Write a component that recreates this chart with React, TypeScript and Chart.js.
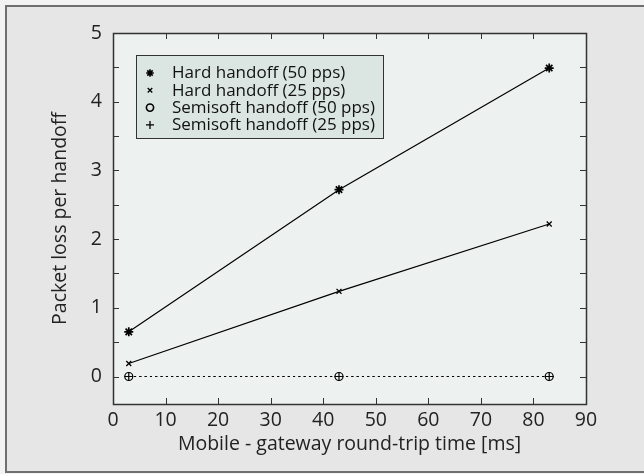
import React, { useEffect, useRef } from 'react';
import { Chart, registerables } from 'chart.js';
import { drawPoint } from 'chart.js/helpers';

Chart.register(...registerables);

const rtt = [3, 43, 83];
const hard50 = [0.65, 2.72, 4.49];
const hard25 = [0.19, 1.24, 2.22];
const semi50 = [0, 0, 0];
const semi25 = [0, 0, 0];
const seriesLabels = [
  'Hard handoff (50 pps)',
  'Hard handoff (25 pps)',
  'Semisoft handoff (50 pps)',
  'Semisoft handoff (25 pps)',
];
const xTickValues = [0, 10, 20, 30, 40, 50, 60, 70, 80, 90];
const yTickValues = [0, 1, 2, 3, 4, 5];
const yTickMarks = [0, 0.5, 1, 1.5, 2, 2.5, 3, 3.5, 4, 4.5, 5];
const xTitle = 'Mobile - gateway round-trip time [ms]';
const yTitle = 'Packet loss per handoff';

const FONT = "'Open Sans', sans-serif";
const LEGEND_BG = '#dbe5e1';

const framePlugin = {
  id: 'framePlugin',
  beforeDraw(chart: any) {
    const { ctx, width, height, chartArea: a } = chart;
    ctx.save();
    ctx.fillStyle = '#f3f3f3';
    ctx.fillRect(0, 0, width, height);
    ctx.fillStyle = '#e6e6e6';
    ctx.fillRect(5, 5, width, height - 7);
    ctx.strokeStyle = '#707070';
    ctx.lineWidth = 2;
    ctx.strokeRect(6, 6, width + 10, 466);
    ctx.fillStyle = '#edf1ef';
    ctx.fillRect(a.left, a.top, a.right - a.left, a.bottom - a.top);
    ctx.restore();
  },
  afterDraw(chart: any) {
    const { ctx, chartArea: a, scales } = chart;
    const xs = scales.x;
    const ys = scales.y;
    const L = 6;
    ctx.save();
    ctx.strokeStyle = '#333';
    ctx.lineWidth = 1;
    ctx.beginPath();
    xTickValues.forEach((v) => {
      const px = Math.round(xs.getPixelForValue(v)) + 0.5;
      ctx.moveTo(px, a.bottom);
      ctx.lineTo(px, a.bottom - L);
      ctx.moveTo(px, a.top);
      ctx.lineTo(px, a.top + L);
    });
    yTickMarks.forEach((v) => {
      const py = Math.round(ys.getPixelForValue(v)) + 0.5;
      ctx.moveTo(a.left, py);
      ctx.lineTo(a.left + L, py);
      ctx.moveTo(a.right, py);
      ctx.lineTo(a.right - L, py);
    });
    ctx.stroke();
    ctx.lineWidth = 1.5;
    ctx.strokeRect(Math.round(a.left) + 0.5, Math.round(a.top) + 0.5, Math.round(a.right - a.left), Math.round(a.bottom - a.top));

    // legend
    ctx.font = `17px ${FONT}`;
    let maxW = 0;
    chart.data.datasets.forEach((ds: any) => { maxW = Math.max(maxW, ctx.measureText(ds.label).width); });
    const lx = 136.5, ly = 55.5, lh = 83;
    const lw = Math.round(172 - lx + maxW + 9);
    ctx.fillStyle = LEGEND_BG;
    ctx.fillRect(lx, ly, lw, lh);
    ctx.lineWidth = 1;
    ctx.strokeStyle = '#333';
    ctx.strokeRect(lx, ly, lw, lh);
    ctx.textBaseline = 'middle';
    ctx.textAlign = 'left';
    chart.data.datasets.forEach((ds: any, i: number) => {
      const yy = 73 + i * 17.3;
      ctx.fillStyle = ds.pointStyle === 'circle' ? LEGEND_BG : '#000';
      ctx.strokeStyle = '#000';
      ctx.lineWidth = ds.legendBorder;
      drawPoint(ctx, { pointStyle: ds.pointStyle, radius: ds.legendRadius, rotation: 0, borderWidth: ds.legendBorder }, 150, yy);
      ctx.fillStyle = '#111';
      ctx.fillText(ds.label, 172, yy + 0.5);
    });
    ctx.restore();
  },
};

export default function App() {
  const ref = useRef<HTMLCanvasElement | null>(null);
  useEffect(() => {
    if (!ref.current) return;
    const mk = (ys: number[]) => rtt.map((x, i) => ({ x, y: ys[i] }));
    const chart = new Chart(ref.current, {
      type: 'scatter',
      data: {
        datasets: [
          {
            label: seriesLabels[0], data: mk(hard50), showLine: true,
            borderColor: '#000', backgroundColor: '#000', borderWidth: 1.2,
            pointStyle: 'star', pointRadius: 4.5, pointBorderWidth: 1.7,
            pointBorderColor: '#000', pointBackgroundColor: '#000', legendRadius: 3.8, legendBorder: 1.6,
          } as any,
          {
            label: seriesLabels[1], data: mk(hard25), showLine: true,
            borderColor: '#000', backgroundColor: '#000', borderWidth: 1.2,
            pointStyle: 'crossRot', pointRadius: 3.5, pointBorderWidth: 1.3,
            pointBorderColor: '#000', legendRadius: 3.2, legendBorder: 1.3,
          } as any,
          {
            label: seriesLabels[2], data: mk(semi50), showLine: true,
            borderColor: '#000', backgroundColor: 'rgba(0,0,0,0)', borderWidth: 1.2,
            borderDash: [2, 3.3],
            pointStyle: 'circle', pointRadius: 4, pointBorderWidth: 1.2,
            pointBorderColor: '#000', pointBackgroundColor: 'rgba(0,0,0,0)', legendRadius: 3.6, legendBorder: 1.6,
          } as any,
          {
            label: seriesLabels[3], data: mk(semi25), showLine: true,
            borderColor: '#000', backgroundColor: '#000', borderWidth: 1.2,
            borderDash: [2, 3.3],
            pointStyle: 'cross', pointRadius: 4.5, pointBorderWidth: 1.2,
            pointBorderColor: '#000', legendRadius: 4, legendBorder: 1.3,
          } as any,
        ],
      },
      options: {
        animation: false,
        responsive: false,
        maintainAspectRatio: false,
        layout: { padding: { left: 0, right: 58, top: 33, bottom: 0 } },
        plugins: { legend: { display: false }, tooltip: { enabled: false } },
        scales: {
          x: {
            type: 'linear', min: 0, max: 90,
            grid: { display: false, drawTicks: false },
            border: { display: false },
            afterBuildTicks: (s: any) => { s.ticks = xTickValues.map((v) => ({ value: v })); },
            afterFit: (s: any) => { s.height = 70; },
            ticks: { font: { family: FONT, size: 19.5 }, color: '#222', padding: 5, maxRotation: 0, autoSkip: false },
            title: { display: true, text: xTitle, font: { family: FONT, size: 19.5 }, color: '#222', padding: { top: 0, bottom: 18 } },
          },
          y: {
            type: 'linear', min: -0.4, max: 5,
            grid: { display: false, drawTicks: false },
            border: { display: false },
            afterBuildTicks: (s: any) => { s.ticks = yTickValues.map((v) => ({ value: v })); },
            afterFit: (s: any) => { s.width = 113; },
            ticks: { font: { family: FONT, size: 19.5 }, color: '#222', padding: 11, autoSkip: false },
            title: { display: true, text: yTitle, font: { family: FONT, size: 19.5 }, color: '#222', padding: { top: 49, bottom: 0 } },
          },
        },
      },
      plugins: [framePlugin],
    });
    return () => chart.destroy();
  }, []);
  return (
    <div style={{ position: 'fixed', left: 0, top: 0, width: 644, height: 474 }}>
      <canvas ref={ref} width={644} height={474} style={{ width: 644, height: 474, display: 'block' }} />
    </div>
  );
}
